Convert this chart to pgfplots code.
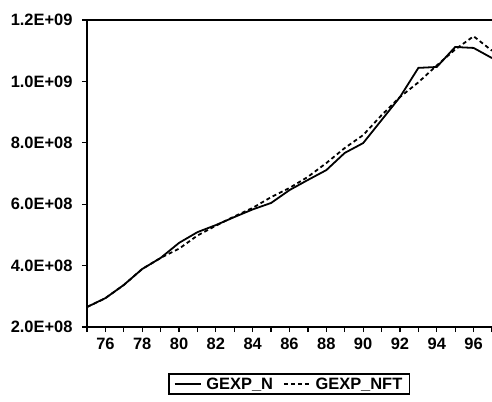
\documentclass[border=0pt]{standalone}
\usepackage{pgfplots}
\pgfplotsset{compat=1.18}
\usepackage{fontspec}
\setmainfont{Liberation Sans}

% Government expenditure: actual series and its fitted counterpart
\begin{document}
\begin{tikzpicture}
\path[use as bounding box] (0,0) rectangle (492bp,402bp);
\begin{axis}[
  at={(87bp,75bp)}, anchor=south west,
  width=405bp, height=307bp, scale only axis,
  xmin=75, xmax=97, ymin=2e8, ymax=1.2e9,
  scaled y ticks=false,
  axis y line*=left, axis x line*=bottom,
  axis line style={line width=2bp, -},
  xtick={76,78,...,96},
  xticklabels={76,78,80,82,84,86,88,90,92,94,96},
  minor xtick={75,77,...,97},
  ytick={2e8,4e8,6e8,8e8,1e9,1.2e9},
  yticklabels={2.0E+08,4.0E+08,6.0E+08,8.0E+08,1.0E+09,1.2E+09},
  tick align=outside,
  major tick length=5bp, minor tick length=5bp,
  every tick/.style={black, line width=1.2bp},
  ticklabel style={font=\fontsize{16.5}{17}\selectfont\bfseries},
  xticklabel style={yshift=-3bp},
  yticklabel style={xshift=-6bp},
  clip=false,
  legend columns=2,
  legend style={at={(axis description cs:0.499,-0.186)}, anchor=center,
    draw=black, line width=1.5bp, font=\fontsize{16.5}{17}\selectfont\bfseries,
    inner xsep=5bp, inner ysep=1.5bp,
    /tikz/every even column/.append style={column sep=8bp}},
  legend image code/.code={\draw[#1, line width=1.5bp] (0bp,0bp) -- (26bp,0bp);},
  legend cell align=left,
  /tikz/every odd column/.append style={},
]
\addplot[black, line width=1.8bp] coordinates {
  (75,2.65e8) (76,2.94e8) (77,3.37e8) (78,3.89e8) (79,4.25e8) (80,4.74e8)
  (81,5.09e8) (82,5.32e8) (83,5.58e8) (84,5.83e8) (85,6.04e8) (86,6.46e8)
  (87,6.79e8) (88,7.11e8) (89,7.67e8) (90,7.99e8) (91,8.74e8) (92,9.49e8)
  (93,1.044e9) (94,1.047e9) (95,1.112e9) (96,1.109e9) (97,1.076e9)
};
\addlegendentry{\hspace{3bp}GEXP\_N}
\addplot[black, line width=1.8bp, dash pattern=on 4bp off 3bp] coordinates {
  (75,2.65e8) (76,2.94e8) (77,3.37e8) (78,3.89e8) (79,4.25e8) (80,4.55e8)
  (81,4.98e8) (82,5.30e8) (83,5.60e8) (84,5.88e8) (85,6.23e8) (86,6.53e8)
  (87,6.89e8) (88,7.34e8) (89,7.83e8) (90,8.25e8) (91,8.90e8) (92,9.49e8)
  (93,9.97e8) (94,1.052e9) (95,1.104e9) (96,1.147e9) (97,1.100e9)
};
\addlegendentry{\hspace{3bp}GEXP\_NFT}
\draw[line width=2.2bp] (rel axis cs:0,1) -- (rel axis cs:1,1);
\end{axis}
\end{tikzpicture}
\end{document}
